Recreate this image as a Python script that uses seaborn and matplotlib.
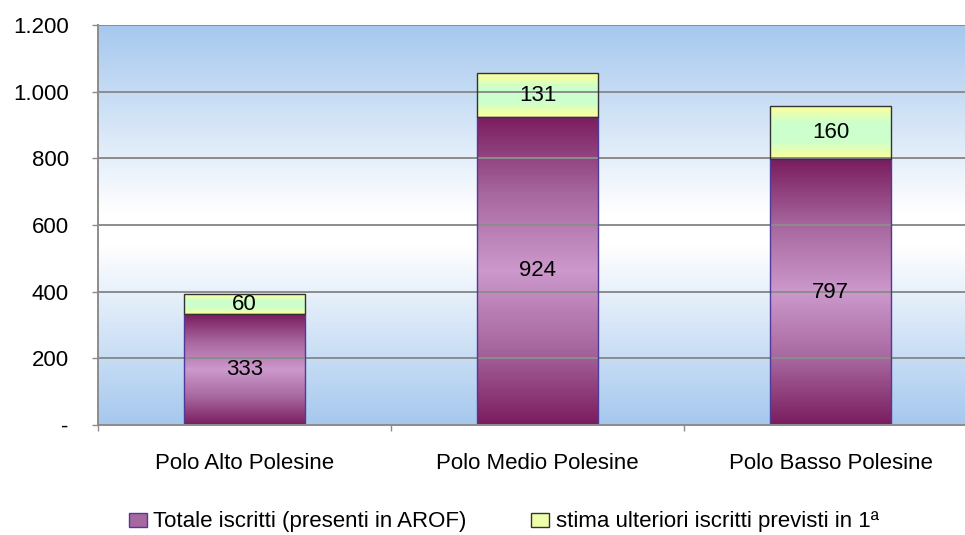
import numpy as np
import matplotlib
matplotlib.use("Agg")
import matplotlib.pyplot as plt
import seaborn as sns
from matplotlib.colors import LinearSegmentedColormap
from matplotlib.patches import Patch
from matplotlib.ticker import FixedLocator, FixedFormatter

# ------------------------------------------------------------
# Dati del grafico
# ------------------------------------------------------------
poli = ["Polo Alto Polesine", "Polo Medio Polesine", "Polo Basso Polesine"]
totale_iscritti = [333, 924, 797]
stima_ulteriori = [60, 131, 160]
valori_y = [0, 200, 400, 600, 800, 1000, 1200]
etichette_y = ["-", "200", "400", "600", "800", "1.000", "1.200"]
legenda = [
    "Totale iscritti (presenti in AROF)",
    "stima ulteriori iscritti previsti in 1ª",
]

# ------------------------------------------------------------
# Stile
# ------------------------------------------------------------
sns.set_style("white")
plt.rcParams["font.family"] = ["Liberation Sans", "DejaVu Sans"]
plt.rcParams["text.color"] = "black"
plt.rcParams["xtick.labelcolor"] = "black"
plt.rcParams["ytick.labelcolor"] = "black"

viola = LinearSegmentedColormap.from_list(
    "viola", ["#7A1C5E", "#A7679F", "#CC99CC", "#A7679F", "#7A1C5E"]
)
giallo = LinearSegmentedColormap.from_list(
    "giallo", ["#FFFF99", "#CCFFCC", "#CCFFCC", "#FFFF99"]
)
sfondo = LinearSegmentedColormap.from_list(
    "sfondo", [(0, "#A6C8EE"), (0.47, "#FFFFFF"), (0.55, "#FFFFFF"), (1, "#A6C8EE")]
)

fig = plt.figure(figsize=(9.65, 5.35), dpi=100)
ax = fig.add_axes([98 / 965, 110 / 535, 879 / 965, 400 / 535])

# sfondo sfumato dell'area del grafico
grad = np.linspace(0, 1, 256).reshape(-1, 1)
ax.imshow(grad, cmap=sfondo, aspect="auto", extent=[0, 1, 0, 1],
          transform=ax.transAxes, zorder=0)

# barre impilate
sns.barplot(x=poli, y=totale_iscritti, width=0.41, color="#A7679F",
            edgecolor="#4E3A9A", linewidth=1, ax=ax, zorder=3)
sns.barplot(x=poli, y=stima_ulteriori, bottom=totale_iscritti, width=0.41,
            color="#EEFFAA", edgecolor="#333333", linewidth=1, ax=ax, zorder=3)

# riempimento sfumato delle barre (verticale)
n_bar = len(poli)
for i, p in enumerate(ax.patches):
    cmap = viola if i < n_bar else giallo
    x0, y0 = p.get_x(), p.get_y()
    w, h = p.get_width(), p.get_height()
    im = ax.imshow(grad, cmap=cmap, aspect="auto",
                   extent=[x0, x0 + w, y0, y0 + h], zorder=2.5)
    im.set_clip_path(p)
    p.set_facecolor("none")

# etichette dei valori
for i in range(n_bar):
    ax.text(i, totale_iscritti[i] / 2, str(totale_iscritti[i]),
            ha="center", va="center", fontsize=16, color="black", zorder=5)
    ax.text(i, totale_iscritti[i] + stima_ulteriori[i] / 2, str(stima_ulteriori[i]),
            ha="center", va="center", fontsize=16, color="black", zorder=5)

# assi
ax.set_xlim(-0.5, 2.5)
ax.set_ylim(0, 1200)
ax.yaxis.set_major_locator(FixedLocator(valori_y))
ax.yaxis.set_major_formatter(FixedFormatter(etichette_y))
ax.grid(axis="y", color="#8C8C8C", linewidth=1.4, zorder=1)
ax.set_axisbelow(False)
for line in ax.get_ygridlines():
    line.set_zorder(1)

ax.tick_params(axis="y", length=4, width=1, color="#8C8C8C", pad=17,
               labelsize=16, left=True, labelcolor="black")
ax.tick_params(axis="x", which="major", length=0, pad=20, labelsize=16,
               labelcolor="black")
ax.set_xticks([-0.5, 0.5, 1.5, 2.5], minor=True)
ax.tick_params(axis="x", which="minor", length=4, width=1, color="#8C8C8C",
               bottom=True)

for lato in ["top", "right"]:
    ax.spines[lato].set_visible(False)
for lato in ["left", "bottom"]:
    ax.spines[lato].set_color("#8C8C8C")
    ax.spines[lato].set_linewidth(1.4)
    ax.spines[lato].set_zorder(4)

# legenda
maniglie = [
    Patch(facecolor="#A7679F", edgecolor="#4E3A9A", label=legenda[0]),
    Patch(facecolor="#EEFFAA", edgecolor="#333333", label=legenda[1]),
]
fig.legend(handles=maniglie, loc="center left",
           bbox_to_anchor=(120 / 965, 13 / 535), ncol=2, frameon=False,
           prop={"size": 16}, handlelength=0.8, handleheight=0.6,
           handletextpad=0.3, columnspacing=2.9, borderaxespad=0)

fig.savefig("out.png", dpi=100)
